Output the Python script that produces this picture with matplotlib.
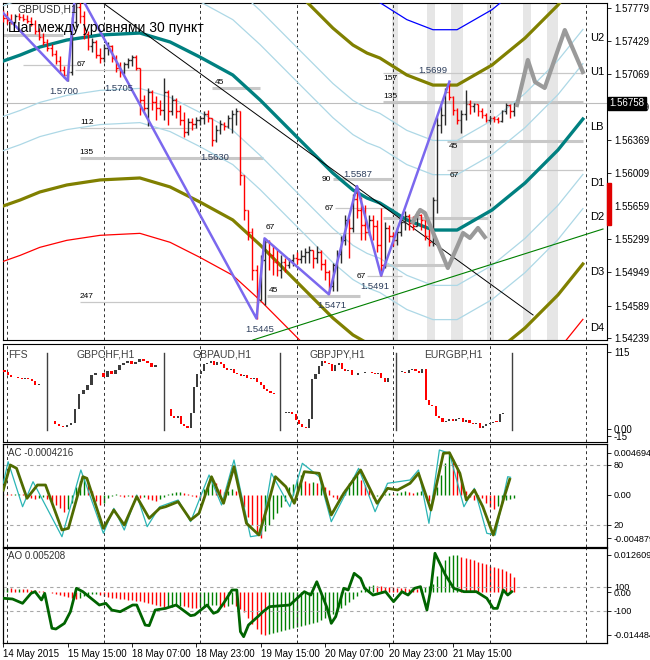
import numpy as np
import matplotlib.pyplot as plt
from matplotlib.patches import Rectangle
from matplotlib.transforms import blended_transform_factory

plt.rcParams['font.family'] = ['Liberation Sans', 'DejaVu Sans']

# ---- GBPUSD H1, bar 0 = 14 May 23:00
first_open = 1.5772
highs = [1.5776, 1.5774, 1.5772, 1.5772, 1.5773, 1.5772, 1.5770, 1.5768, 1.5765, 1.5757,
         1.5751, 1.5745, 1.5739, 1.5733, 1.5726, 1.5716, 1.5712, 1.5768, 1.5801, 1.5784,
         1.5775, 1.5753, 1.5746, 1.5744, 1.5735, 1.5739, 1.5741, 1.5738, 1.5728, 1.5720,
         1.5720, 1.5724, 1.5728, 1.5728, 1.5714, 1.5685, 1.5692, 1.5690, 1.5684, 1.5679,
         1.5703, 1.5690, 1.5685, 1.5681, 1.5674, 1.5666, 1.5660, 1.5660, 1.5661, 1.5662,
         1.5667, 1.5669, 1.5660, 1.5653, 1.5658, 1.5656, 1.5663, 1.5669, 1.5671, 1.5667,
         1.5599, 1.5561, 1.5542, 1.5502, 1.5513, 1.5531, 1.5529, 1.5524, 1.5520, 1.5513,
         1.5510, 1.5510, 1.5514, 1.5516, 1.5518, 1.5521, 1.5523, 1.5518, 1.5523, 1.5518,
         1.5509, 1.5497, 1.5505, 1.5518, 1.5533, 1.5556, 1.5553, 1.5578, 1.5587, 1.5575,
         1.5567, 1.5556, 1.5556, 1.5551, 1.5564, 1.5549, 1.5545, 1.5538, 1.5542, 1.5553,
         1.5560, 1.5557, 1.5555, 1.5560, 1.5557, 1.5551, 1.5541, 1.5575, 1.5661, 1.5674,
         1.5692, 1.5699, 1.5684, 1.5671, 1.5669, 1.5690, 1.5679, 1.5676, 1.5675, 1.5671,
         1.5665, 1.5662, 1.5662, 1.5661, 1.5669, 1.5676, 1.5675, 1.5676]
lows = [1.5763, 1.5761, 1.5761, 1.5762, 1.5765, 1.5764, 1.5762, 1.5759, 1.5750, 1.5744,
        1.5738, 1.5732, 1.5726, 1.5718, 1.5708, 1.5703, 1.5700, 1.5706, 1.5758, 1.5762,
        1.5745, 1.5733, 1.5731, 1.5724, 1.5719, 1.5720, 1.5728, 1.5720, 1.5709, 1.5704,
        1.5707, 1.5714, 1.5716, 1.5711, 1.5663, 1.5667, 1.5651, 1.5669, 1.5658, 1.5663,
        1.5658, 1.5653, 1.5663, 1.5660, 1.5653, 1.5640, 1.5642, 1.5647, 1.5649, 1.5652,
        1.5654, 1.5656, 1.5630, 1.5634, 1.5643, 1.5647, 1.5649, 1.5644, 1.5653, 1.5588,
        1.5551, 1.5529, 1.5486, 1.5445, 1.5465, 1.5460, 1.5497, 1.5492, 1.5491, 1.5489,
        1.5495, 1.5499, 1.5501, 1.5503, 1.5505, 1.5505, 1.5505, 1.5499, 1.5505, 1.5497,
        1.5486, 1.5471, 1.5475, 1.5474, 1.5505, 1.5524, 1.5510, 1.5538, 1.5553, 1.5529,
        1.5529, 1.5535, 1.5529, 1.5516, 1.5491, 1.5499, 1.5527, 1.5523, 1.5524, 1.5534,
        1.5540, 1.5540, 1.5540, 1.5544, 1.5540, 1.5529, 1.5523, 1.5523, 1.5558, 1.5644,
        1.5652, 1.5679, 1.5663, 1.5654, 1.5644, 1.5658, 1.5664, 1.5666, 1.5662, 1.5660,
        1.5656, 1.5656, 1.5656, 1.5655, 1.5656, 1.5664, 1.5660, 1.5662]
closes = [1.5767, 1.5765, 1.5763, 1.5769, 1.5768, 1.5766, 1.5764, 1.5761, 1.5753, 1.5747,
          1.5741, 1.5735, 1.5729, 1.5721, 1.5711, 1.5706, 1.5709, 1.5763, 1.5779, 1.5769,
          1.5750, 1.5737, 1.5741, 1.5728, 1.5724, 1.5735, 1.5737, 1.5724, 1.5714, 1.5709,
          1.5718, 1.5722, 1.5725, 1.5714, 1.5679, 1.5671, 1.5688, 1.5677, 1.5671, 1.5669,
          1.5688, 1.5667, 1.5679, 1.5667, 1.5658, 1.5645, 1.5656, 1.5654, 1.5658, 1.5660,
          1.5664, 1.5660, 1.5636, 1.5647, 1.5654, 1.5651, 1.5660, 1.5664, 1.5667, 1.5599,
          1.5561, 1.5538, 1.5497, 1.5465, 1.5508, 1.5527, 1.5513, 1.5506, 1.5497, 1.5506,
          1.5502, 1.5508, 1.5510, 1.5509, 1.5512, 1.5516, 1.5518, 1.5510, 1.5516, 1.5504,
          1.5495, 1.5480, 1.5502, 1.5514, 1.5529, 1.5551, 1.5542, 1.5573, 1.5561, 1.5545,
          1.5538, 1.5551, 1.5544, 1.5524, 1.5502, 1.5542, 1.5534, 1.5529, 1.5538, 1.5549,
          1.5555, 1.5547, 1.5544, 1.5556, 1.5551, 1.5534, 1.5527, 1.5572, 1.5653, 1.5663,
          1.5688, 1.5683, 1.5669, 1.5658, 1.5664, 1.5675, 1.5673, 1.5675, 1.5667, 1.5663,
          1.5658, 1.5660, 1.5659, 1.5657, 1.5667, 1.5674, 1.5667, 1.5676]
last_price = 1.56758

price_ticks = [1.57779, 1.57429, 1.57069, 1.56719, 1.56369, 1.56009,
               1.55659, 1.55299, 1.54949, 1.54589, 1.54239]

# moving average (centre of the envelope) and envelope levels
ma_bars = [0, 4.2, 9.1, 15.8, 24.1, 34.0, 41.5, 48.9, 57.1, 63.9, 73.8, 82.0,
           87.0, 90.5, 93.7, 100.4, 106.9, 112.9, 121.6, 129.8, 138.0, 144.2]
ma_prices = [1.57211, 1.57275, 1.57361, 1.57436, 1.57490, 1.57511, 1.57415, 1.57254,
             1.57061, 1.56793, 1.56364, 1.56010, 1.55828, 1.55742, 1.55689, 1.55507,
             1.55399, 1.55399, 1.55614, 1.55903, 1.56257, 1.56589]
band_unit = 0.01554
band_levels = [0.382, 0.618, 1.0, 1.382]

# zigzag swings
zz_bars = [-0.8, 16, 18, 63, 65, 81, 88, 94, 111]
zz_prices = [1.5776, 1.5700, 1.5801, 1.5445, 1.5531, 1.5471, 1.5587, 1.5491, 1.5699]

# trend lines (two end points each)
trend_black = ([24.8, 131.8], [1.57833, 1.54488])
trend_green = ([62.1, 149.2], [1.54220, 1.55410])

# forecast paths
fc1_bars = [101.9, 103.7, 104.9, 110.6, 112.9, 114.4, 116.1, 118.1, 119.8]
fc1_prices = [1.55485, 1.55614, 1.55582, 1.54992, 1.55217, 1.55367, 1.55314, 1.55421, 1.55324]
fc2_bars = [127.8, 130.5, 132.3, 134.7, 139.7, 144.2]
fc2_prices = [1.56739, 1.57222, 1.56986, 1.56922, 1.57543, 1.57093]

# highlighted sessions
session_start = [96.7, 105.4, 111.4, 120.3, 129.3, 135.3]
session_end = [98.2, 107.4, 114.4, 122.1, 131.3, 138.0]

# horizontal levels
level_prices = [1.57490, 1.57168, 1.57115, 1.56922, 1.56493, 1.56171, 1.55367, 1.54692,
                1.54628, 1.55946, 1.55635, 1.54906, 1.57082, 1.56772, 1.56353, 1.56043,
                1.55528, 1.55024]
level_start = [-1, 5.0, 17.8, 52.0, 19.1, 19.1, 64.6, 65.6, 19.1, 82.0, 82.5, 90.5,
               94.5, 94.5, 110.4, 110.4, 94.5, 94.5]
level_end = [14.9, 19.1, 48.2, 63.9, 48.2, 64.6, 90.5, 88.7, 64.6, 96.7, 96.9, 99.2,
             144.2, 144.2, 144.2, 144.2, 120.6, 110.0]
level_thick = [1, 0, 0, 1, 0, 1, 0, 1, 0, 1, 0, 0, 0, 1, 1, 0, 1, 1]
level_text = ['', '', '67', '45', '112', '135', '67', '45', '247', '90', '67', '67',
              '157', '135', '45', '67', '', '']

swing_text = ['1.5700', '1.5705', '1.5630', '1.5445', '1.5471', '1.5491', '1.5587', '1.5699']
swing_bars = [15.0, 28.8, 52.7, 63.9, 81.8, 92.5, 88.2, 106.9]
swing_prices = [1.5700, 1.5704, 1.5630, 1.5445, 1.5471, 1.5491, 1.5587, 1.5699]

# ---- FFS panel: normalised mini charts (first value = first open)
ffs_names = ['GBPCHF,H1', 'GBPAUD,H1', 'GBPJPY,H1', 'EURGBP,H1']
ffs_sep = [11.0, 39.9, 68.8, 97.7, 126.5]
ffs_usd = [88, 85, 80, 77, 77.5, 76, 75, 75.5, 74, 72, 66, 67]
ffs_chf = [12, 7, 4, 3, 6, 9, 30, 52, 58, 66, 80, 83, 84, 78, 86, 82, 88, 95, 99, 101,
           97, 100, 105, 101, 98, 92, 95]
ffs_aud = [30, 20, 16, 19, 8, 4, 1, 24, 62, 82, 86, 97, 99, 101, 95, 100, 97, 91, 88, 90,
           84, 82, 79, 81, 76, 74, 76, 70, 66, 60, 56, 54, 52]
ffs_jpy = [24, 24.5, 25, 23, 14, 8, 3, 1, 15, 74, 82, 94, 101, 99, 97, 86, 95, 98, 90, 87,
           88, 80, 80.5, 83, 84, 84.5, 85, 83, 82, 84, 76, 70, 76]
ffs_eur = [85, 85.5, 84, 88, 89, 86, 84, 89, 44, 36, 34, 20, 17, 11, 12, 15, 12, 15, 16, 10,
           14, 9, 7, 9, 2, 5, 7, 9, 11, 10, 22, 24]

# ---- AC panel (values in 1e-4) and stochastic lines
ac_e4 = [0.6, 0.6, 0.3, 0.9, 1.1, 0.9, -1.1, -3.4, -4.5, -3.4,
         -2.3, -4.5, -7.9, -11.3, -14.6, -19.1, -15.8, -9.0, 9.0, 15.8,
         20.3, 14.6, 4.5, -6.8, -11.3, -9.0, -3.4, -1.1, 0.6, -1.1,
         -2.3, -1.7, -2.3, -1.1, -3.4, -2.3, -4.5, -5.6, -6.8, -4.5,
         -2.3, 1.1, 2.3, 3.4, 3.6, 2.3, 1.1, -1.1, -2.3, -3.4,
         6.8, 13.5, 16.9, 13.5, 6.8, 3.4, 4.5, 6.8, 4.5, -2.3,
         -13.5, -24.8, -33.8, -45.0, -48.4, -40.5, -33.8, -27.0, -20.3, -13.5,
         -6.8, 9.0, 12.4, 18.0, 22.5, 15.8, 13.5, 14.1, 13.5, 14.1,
         9.0, 5.6, -2.3, -4.5, -2.3, 6.8, 13.5, 20.3, 22.5, 16.9,
         11.3, 5.6, -3.4, -1.1, -2.3, 1.1, 2.3, 1.1, 2.3, 3.4,
         4.5, 3.4, 2.3, 3.4, 4.5, 2.3, -6.8, -4.5, 9.0, 22.5,
         36.0, 46.9, 40.0, 29.3, 15.8, 4.5, -2.3, -5.6, -1.1, -3.4,
         -9.0, -13.5, -15.8, -12.4, -9.0, -5.6, -5.1, -4.2]
st_main_x = [0, 1.75, 3.3, 5.9, 8.5, 10.5, 14.6, 16.2, 19.8, 20.8, 24.9, 27.5, 30.1, 33.2,
             36.3, 38.9, 40.4, 43.5, 46.6, 48.7, 51.8, 54.8, 57.4, 60.5, 63.6, 65.7, 67.7,
             70.3, 72.4, 74.9, 78.6, 81.6, 84.7, 88.9, 93.0, 95.6, 98.1, 101.2, 103.3,
             106.4, 109.5, 111.0, 113.6, 115.2, 117.2, 119.3, 121.9, 124.4, 126.0]
st_main_y = [55, 80, 76.7, 46.7, 60, 60, 15, 16.7, 68.3, 66.7, 16.7, 35, 20, 48.3,
             26.7, 36.7, 38.3, 43.3, 25, 31.7, 68.3, 41.7, 78.3, 21.7, 10, 38.3, 68.3,
             58.3, 41.7, 73.3, 71.7, 30, 51.7, 75, 41.7, 56.7, 55, 61.7, 71.7,
             35, 91.7, 92.3, 71.7, 45, 55, 38.3, 10, 45, 65.7]
st_sig_x = [0, 1.2, 4.8, 7.4, 14.6, 19.3, 24.9, 27.5, 30.1, 33.2, 35.8, 38.9, 43.5, 46.6,
            51.2, 54.3, 57.4, 61.5, 64.1, 66.7, 71.3, 74.4, 78.6, 81.6, 88.4, 92.5, 95.6,
            101.2, 103.3, 105.9, 108.5, 111.0, 114.6, 117.2, 120.3, 122.4, 125.5, 126.2]
st_sig_y = [61.7, 83.3, 38.3, 63.3, 8.3, 75, 11.7, 36.7, 15, 50, 18.3, 38.3, 45, 23.3,
            70, 40, 85, 8.3, 10, 71.7, 38.3, 81.7, 68.3, 23.3, 76.7, 33.3, 61.7,
            65, 75, 21.7, 95, 91.7, 38.3, 56.7, 11.7, 10, 68.3, 67.7]

# ---- AO panel (values in 1e-4) and CCI line
ao_e4 = [13.5, 14.2, 13.5, 11.9, 12.2, 10.2, 10.0, 8.5, 6.8, 5.1,
         3.4, 1.7, -1.7, -6.8, -10.2, -13.5, -16.9, -20.3, -23.7, -20.3,
         -13.5, -10.2, -6.8, -5.1, -10.2, -13.5, -16.9, -18.6, -20.3, -22.0,
         -23.7, -25.4, -27.1, -28.8, -30.5, -33.9, -37.2, -40.6, -44.0, -47.4,
         -50.8, -50.1, -49.1, -47.4, -45.7, -47.4, -50.8, -54.2, -54.9, -50.8,
         -50.1, -47.4, -44.0, -43.3, -47.4, -50.8, -47.4, -40.6, -47.4, -57.6,
         -67.7, -88.0, -108.4, -125.3, -142.2, -144.8, -142.2, -138.8, -135.4, -132.1,
         -128.7, -125.3, -121.9, -118.5, -115.1, -111.7, -108.4, -105.0, -101.6, -94.8,
         -88.0, -81.3, -74.5, -64.3, -54.2, -44.0, -33.9, -23.7, -13.5, 6.8,
         13.5, 20.3, 23.7, 22.0, 20.3, 18.6, 16.9, 16.3, 15.2, 13.5,
         12.9, 11.9, 10.2, 9.5, 11.9, 16.9, 20.3, 27.1, 54.2, 84.7,
         108.4, 121.9, 125.3, 126.1, 118.5, 115.1, 111.7, 108.4, 101.6, 98.2,
         94.8, 88.0, 84.7, 81.3, 77.9, 71.1, 64.3, 52.1]
cci_x = [0, 2.3, 4.8, 6.9, 7.9, 9.5, 10.3, 12.1, 13.1, 15.2,
         16.7, 18.2, 19.8, 23.9, 25.5, 27.0, 29.1, 32.2, 33.2, 35.3,
         36.3, 37.8, 40.4, 43.0, 46.6, 47.6, 50.7, 52.3, 53.3, 54.8,
         56.9, 58.1, 59.0, 59.8, 61.0, 63.6, 64.6, 66.2, 71.3, 74.9,
         76.5, 78.0, 80.6, 81.6, 82.7, 84.7, 85.8, 87.3, 88.9, 89.9,
         92.0, 95.1, 97.1, 99.2, 100.7, 102.3, 103.8, 105.4, 106.4, 107.4,
         110.0, 112.1, 114.6, 117.7, 120.3, 121.9, 122.9, 124.4, 125.5, 126.5]
cci_y = [6, 0, -36, 47, 61, -8, 47, -244, -250, -203,
         -106, 89, 61, -50, -36, -92, -106, -50, -50, -217,
         -222, -92, -78, -50, -139, -133, -50, -119, -106, -36,
         75, 75, -272, -314, -217, -139, -106, -64, -50, 61,
         33, 144, -78, -203, -147, 89, 75, 214, 172, 89,
         33, 61, -22, 61, 33, 89, 103, -92, 89, 381,
         200, 89, 61, 61, 6, -78, -78, 75, 33, 61]

grid_bars = [1, 25, 49, 73, 97, 121, 145]
date_bars = [0, 16, 32, 48, 64, 80, 96, 112]
date_labels = ['14 May 2015', '15 May 15:00', '18 May 07:00', '18 May 23:00',
               '19 May 15:00', '20 May 07:00', '20 May 23:00', '21 May 15:00']

W, H = 650, 660
fig = plt.figure(figsize=(W / 100, H / 100), dpi=100)
fig.patch.set_facecolor('white')


def painel(top, bottom):
    a = fig.add_axes([3 / W, 1 - bottom / H, 604 / W, (bottom - top) / H])
    a.set_xlim(-0.07, 150.2)
    a.set_xticks([])
    a.yaxis.tick_right()
    a.tick_params(axis='y', labelsize=7, length=3, width=0.6, pad=2)
    for s in a.spines.values():
        s.set_linewidth(0.8)
    for g in grid_bars:
        a.axvline(g, color='#303030', lw=0.7, ls=(0, (3, 3)), zorder=1)
    return a


def histograma(a, vals, lim):
    # oscillator histogram on a hidden twin axis, drawn behind the lines
    t = a.twinx()
    t.set_ylim(*lim)
    t.set_yticks([])
    cores = ['#008000' if i == 0 or vals[i] > vals[i - 1] else '#ff0000' for i in range(len(vals))]
    t.vlines(np.arange(len(vals)), 0, vals, colors=cores, lw=1.0)
    t.set_zorder(a.get_zorder() - 1)
    a.patch.set_visible(False)
    a.yaxis.tick_right()
    a.yaxis.set_label_position('right')
    return t


# ================= main chart =================
ax = painel(3, 340)
ax.set_ylim(1.5422, 1.57833)
ax.set_yticks(price_ticks)
ax.set_yticklabels(['%.5f' % p for p in price_ticks])

for s0, s1 in zip(session_start, session_end):
    ax.axvspan(s0, s1, color='#e6e6e6', lw=0, zorder=0)

for p, b0, b1, thick in zip(level_prices, level_start, level_end, level_thick):
    ax.plot([b0, b1], [p, p], color='#c8c8c8', lw=2.2 if thick else 0.9,
            solid_capstyle='butt', zorder=2)
ax.axhline(last_price, color='#bdbdbd', lw=0.8, zorder=2)

# level labels
for txt, p, b0 in zip(level_text, level_prices, level_start):
    if not txt:
        continue
    if txt == '90' or (txt == '67' and b0 in (82.5, 90.5)):
        ax.annotate(txt, (b0, p), xytext=(-1, 0), textcoords='offset points',
                    ha='right', va='center', fontsize=6, zorder=8)
    elif b0 >= 94 and txt in ('157', '45', '67'):
        ax.annotate(txt, (b0 + 1.7, p), xytext=(0, -1.5), textcoords='offset points',
                    ha='center', va='top', fontsize=6, zorder=8)
    else:
        ax.annotate(txt, (b0 + 1.7, p), xytext=(0, 1.2), textcoords='offset points',
                    ha='center', va='bottom', fontsize=6, zorder=8)

# envelope around the moving average
ma_x = np.array(ma_bars)
ma_y = np.array(ma_prices)
for lev in band_levels:
    if lev < 1:
        c_up, c_dn, lw = '#add8e6', '#add8e6', 0.9
    elif lev == 1:
        c_up, c_dn, lw = '#808000', '#808000', 2.3
    else:
        c_up, c_dn, lw = '#0000ff', '#ff0000', 0.9
    ax.plot(ma_x, ma_y + lev * band_unit, color=c_up, lw=lw, zorder=3, solid_joinstyle='round')
    ax.plot(ma_x, ma_y - lev * band_unit, color=c_dn, lw=lw, zorder=3, solid_joinstyle='round')
ax.plot(ma_x, ma_y, color='#008080', lw=2.4, zorder=3, solid_joinstyle='round')

ax.plot(*trend_black, color='black', lw=0.7, zorder=4)
ax.plot(*trend_green, color='#008000', lw=0.8, zorder=4)

# price bars
opens = np.array([first_open] + closes[:-1])
cl = np.array(closes)
idx = np.arange(len(cl))
cols = np.where(cl >= opens, '#2a2a2a', '#ff0000')
ax.vlines(idx, lows, highs, colors=cols, lw=1.0, zorder=5)
ax.hlines(opens, idx - 0.45, idx, colors=cols, lw=1.0, zorder=5)
ax.hlines(cl, idx, idx + 0.45, colors=cols, lw=1.0, zorder=5)

ax.plot(zz_bars, zz_prices, color='#7b68ee', lw=1.8, zorder=6)
ax.plot(fc1_bars, fc1_prices, color='#9a9a9a', lw=3, zorder=6, solid_joinstyle='round')
ax.plot(fc2_bars, fc2_prices, color='#9a9a9a', lw=3, zorder=6, solid_joinstyle='round')

for txt, b, p in zip(swing_text, swing_bars, swing_prices):
    is_high = txt in ('1.5587', '1.5699')
    dy = 8 if is_high else -8
    ax.annotate(txt, (b, p), xytext=(0, dy), textcoords='offset points',
                ha='center', va='center', fontsize=6.8, color='#2d3e5c', zorder=8)

# band names at the right end
end_c = ma_prices[-1]
names = [('U2', end_c + 0.618 * band_unit), ('U1', end_c + 0.382 * band_unit),
         ('LB', end_c), ('D1', end_c - 0.382 * band_unit), ('D2', end_c - 0.618 * band_unit),
         ('D3', end_c - 1.0 * band_unit), ('D4', end_c - 1.382 * band_unit)]
for n, p in names:
    ax.annotate(n, (145.9, p), xytext=(0, -6), textcoords='offset points',
                ha='left', va='center', fontsize=8, zorder=8)

tr = blended_transform_factory(ax.transAxes, ax.transData)
ax.text(1.004, last_price, '%.5f' % last_price, transform=tr, ha='left', va='center',
        fontsize=7, color='white', zorder=10,
        bbox=dict(facecolor='black', edgecolor='black', pad=1.2))
ax.add_patch(Rectangle((1.0, 1.55453), 4 / 604, 1.55903 - 1.55453, transform=tr,
                       color='#e00000', clip_on=False, zorder=10))

fig.text(18 / W, 1 - 10 / H, 'GBPUSD,H1', fontsize=7.5, va='center', color='#303030')
fig.text(8 / W, 1 - 28 / H, 'Шаг между уровнями 30 пункт', fontsize=10, va='center')

# ================= FFS =================
axf = painel(344, 442)
axf.set_ylim(-19.4, 126.9)
axf.set_yticks([115, 0, -10.5])
axf.set_yticklabels(['115', '0.00', '-15'])
for b in ffs_sep:
    axf.plot([b, b], [-1.5, 113.4], color='#404040', lw=1, zorder=3)


def mini_candles(a, vals, start, step):
    o = np.array(vals[:-1], dtype=float)
    c = np.array(vals[1:], dtype=float)
    x = start + step * np.arange(len(c))
    col = np.where(c >= o, '#3c3c3c', '#ff0000')
    h = np.maximum(np.abs(c - o), 1.3)
    a.bar(x, h, bottom=np.minimum(o, c), width=step * 0.62, color=col, zorder=4)


mini_candles(axf, ffs_usd, 0.3, 0.85)
mini_candles(axf, ffs_chf, 12.9, 1.0)
mini_candles(axf, ffs_aud, 41.7, 0.826)
mini_candles(axf, ffs_jpy, 70.3, 0.82)
mini_candles(axf, ffs_eur, 99.2, 0.84)
for name, b0, b1 in zip(ffs_names, ffs_sep[:-1], ffs_sep[1:]):
    axf.text((b0 + b1) / 2, 110.5, name, ha='center', va='center', fontsize=7.5, color='#404040')
axf.text(1.2, 110.5, 'FFS', ha='left', va='center', fontsize=7.5, color='#404040')

# ================= AC =================
axc = painel(444, 547)
axc.set_ylim(-2, 101)
axc.axhline(80, color='#a8a8a8', lw=0.8, ls=(0, (3, 3)), zorder=1)
axc.axhline(20, color='#a8a8a8', lw=0.8, ls=(0, (3, 3)), zorder=1)
histograma(axc, np.array(ac_e4) * 1e-4, (-0.005889, 0.005709))
axc.set_yticks([92, 80, 50.3, 20, 7])
axc.set_yticklabels(['0.004694', '80', '0.00', '20', '-0.004879'])
axc.tick_params(axis='y', labelsize=6.6, length=3, width=0.6, pad=2)
axc.plot(st_sig_x, st_sig_y, color='#2bb5b5', lw=0.9, zorder=4)
axc.plot(st_main_x, st_main_y, color='#4f6b00', lw=2.0, zorder=5, solid_joinstyle='round')
axc.text(0.008, 92, 'AC -0.0004216', fontsize=7, color='#303030', va='center',
         transform=blended_transform_factory(axc.transAxes, axc.transData))

# ================= AO =================
axo = painel(548, 643)
axo.set_ylim(-366.7, 425)
axo.axhline(100, color='#a8a8a8', lw=0.8, ls=(0, (3, 3)), zorder=1)
axo.axhline(-100, color='#a8a8a8', lw=0.8, ls=(0, (3, 3)), zorder=1)
histograma(axo, np.array(ao_e4) * 1e-4, (-0.017201, 0.014966))
axo.set_yticks([366.7, 100, 56.7, -100, -300])
axo.set_yticklabels(['0.012609', '100', '0.00', '-100', '-0.014484'])
axo.tick_params(axis='y', labelsize=6.6, length=3, width=0.6, pad=2)
axo.plot(cci_x, cci_y, color='#006400', lw=2.0, zorder=5, solid_joinstyle='round')
axo.text(0.008, 358, 'AO 0.005208', fontsize=7, color='#303030', va='center',
         transform=blended_transform_factory(axo.transAxes, axo.transData))
axo.set_xticks(date_bars)
axo.set_xticklabels(date_labels, fontsize=7, ha='left')
axo.tick_params(axis='x', length=3, width=0.6, pad=1.5)

fig.savefig('out.png', dpi=100, facecolor='white')
